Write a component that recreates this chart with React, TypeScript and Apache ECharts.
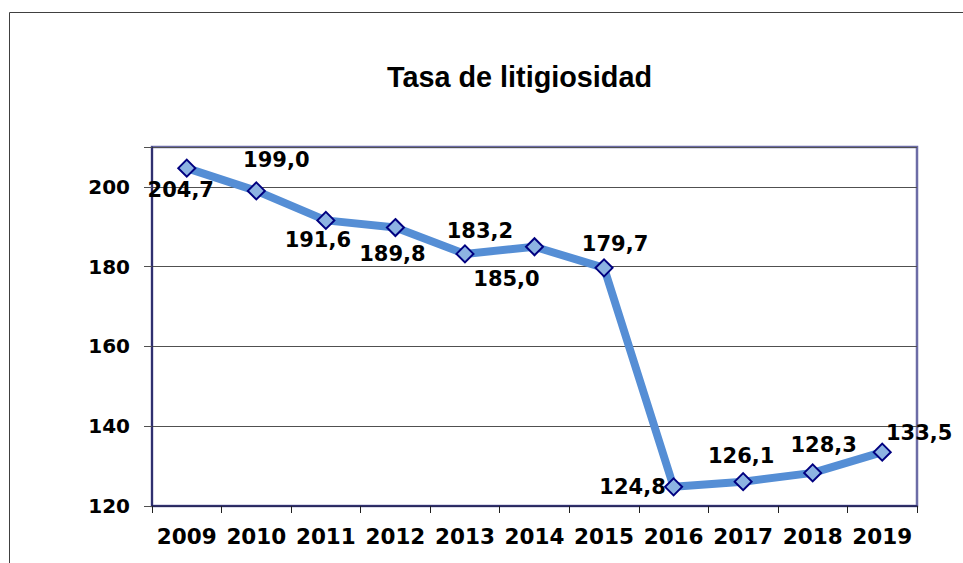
import React, { useEffect, useRef } from "react";
import * as echarts from "echarts";

const titleText = "Tasa de litigiosidad";
const years = ["2009", "2010", "2011", "2012", "2013", "2014", "2015", "2016", "2017", "2018", "2019"];
const rates = [204.7, 199.0, 191.6, 189.8, 183.2, 185.0, 179.7, 124.8, 126.1, 128.3, 133.5];
const yTicks = [120, 140, 160, 180, 200];

// label offsets (pixels) relative to each marker centre
const labelOffsets: [number, number][] = [
  [-6, 22], [20, -31], [-8, 20], [-3, 26], [15, -23], [-28, 32],
  [11, -24], [-41, 0], [-2, -26], [11, -28], [37, -19],
];

const fmt = (v: number) => v.toFixed(1).replace(".", ",");

export default function App() {
  const ref = useRef<HTMLDivElement>(null);
  useEffect(() => {
    if (!ref.current) return;
    const chart = echarts.init(ref.current, null, { renderer: "svg" });
    const labelFont = { fontFamily: "DejaVu Sans", fontWeight: "bold" as const, color: "#000" };
    chart.setOption({
      animation: false,
      backgroundColor: "#fff",
      graphic: [
        {
          type: "polyline",
          shape: { points: [[9.5, 563], [9.5, 12.5], [963, 12.5]] },
          style: { stroke: "#404040", lineWidth: 1, fill: "none" },
          silent: true,
        },
        {
          type: "text",
          x: 519.5,
          y: 77,
          style: {
            text: titleText,
            fontFamily: "Liberation Sans",
            fontWeight: "bold",
            fontSize: 28.8,
            fill: "#000",
            align: "center",
            verticalAlign: "middle",
          },
        },
      ],
      grid: {
        left: 152,
        right: 46,
        top: 147,
        bottom: 57,
        show: true,
        borderColor: "#6c6ca6",
        borderWidth: 2.5,
        backgroundColor: "transparent",
      },
      xAxis: {
        type: "category",
        data: years,
        boundaryGap: true,
        axisLine: { show: true, lineStyle: { color: "#1c1c5c", width: 1.5 } },
        axisTick: { show: true, length: 7, lineStyle: { color: "#202020" } },
        axisLabel: { ...labelFont, fontSize: 21.5, margin: 19, interval: 0, hideOverlap: false },
      },
      yAxis: {
        type: "value",
        min: 120,
        max: 210,
        interval: 20,
        axisLine: { show: true, lineStyle: { color: "#1c1c5c", width: 1.5 } },
        axisTick: { show: true, length: 8, lineStyle: { color: "#505050" } },
        axisLabel: {
          ...labelFont,
          fontSize: 20,
          margin: 22,
          formatter: (v: number) => (yTicks.includes(v) ? String(v) : ""),
        },
        splitLine: { show: true, lineStyle: { color: "#505050", width: 1 } },
      },
      series: [
        {
          type: "line",
          data: rates.map((v, i) => ({
            value: v,
            label: {
              show: true,
              position: "inside",
              offset: labelOffsets[i],
              formatter: () => fmt(v),
              ...labelFont,
              fontSize: 21,
            },
          })),
          lineStyle: { color: "#558ED5", width: 8 },
          symbol: "diamond",
          symbolSize: 17,
          itemStyle: { color: "#8DB3E2", borderColor: "#000080", borderWidth: 2 },
          z: 3,
        },
      ],
    });
    return () => chart.dispose();
  }, []);
  return (
    <div
      ref={ref}
      style={{ position: "fixed", left: 0, top: 0, width: 963, height: 563 }}
    />
  );
}
